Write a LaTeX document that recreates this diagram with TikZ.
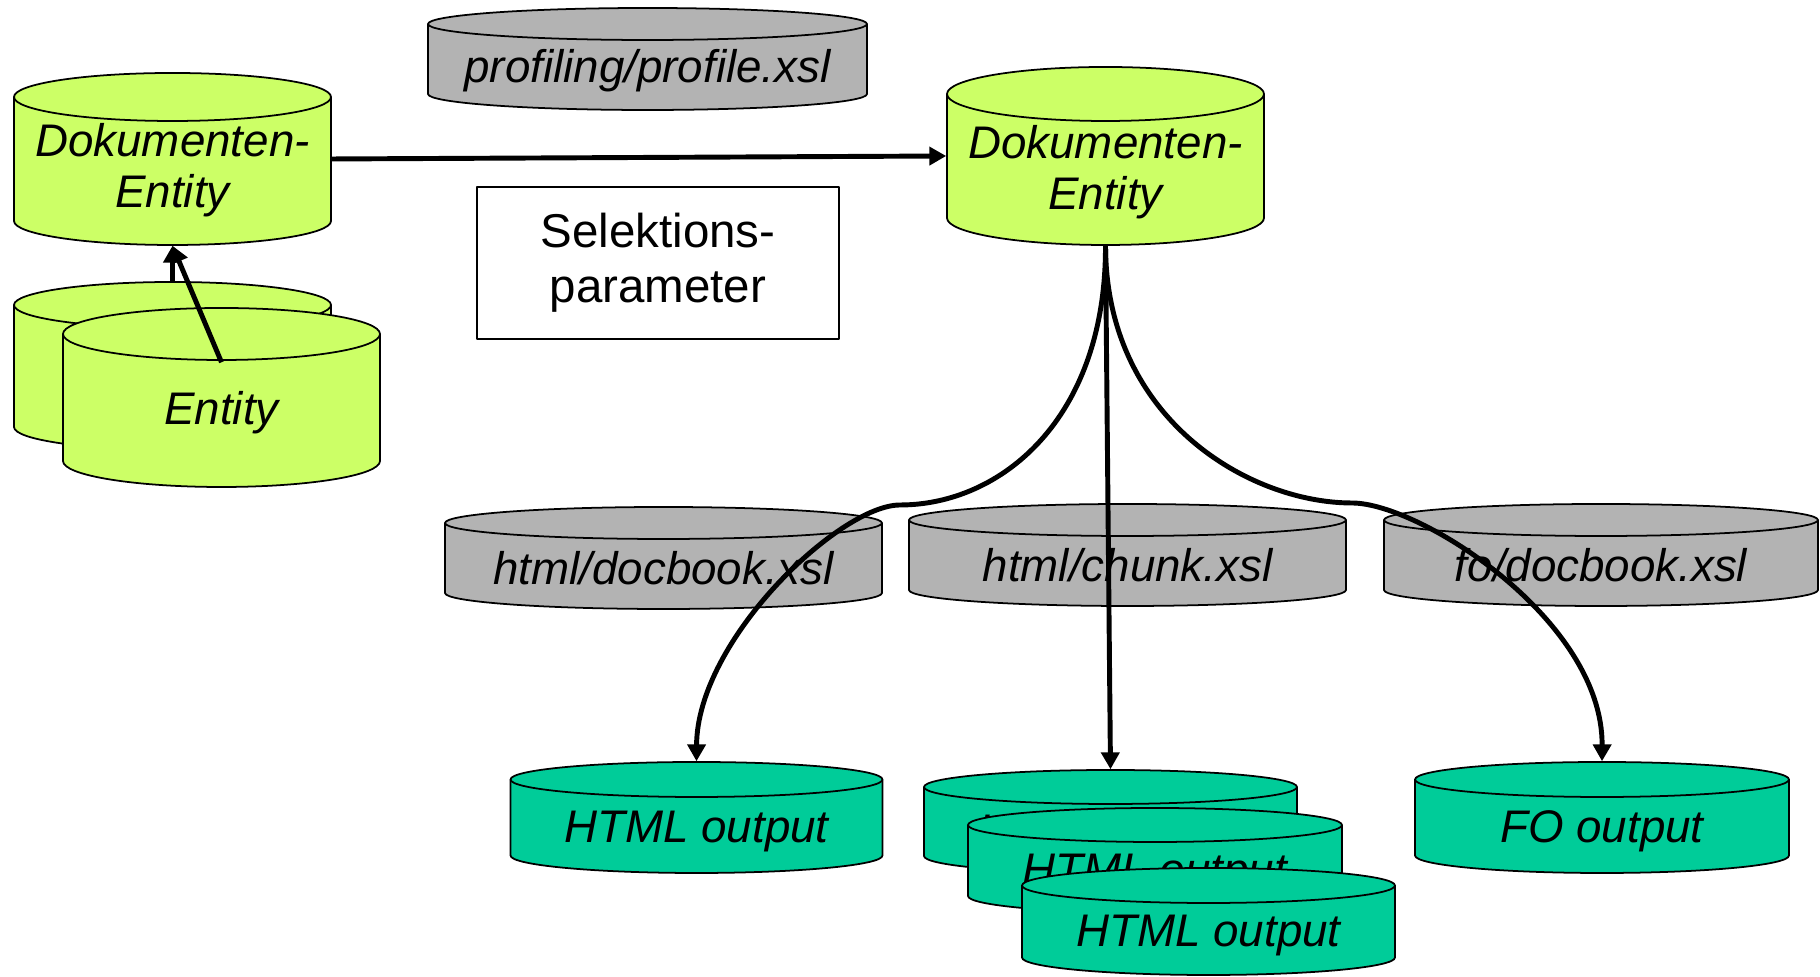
\documentclass[tikz,border=0pt]{standalone}
\usepackage{fontspec}
\setmainfont{Liberation Sans}
\usepackage{tikz}
\usetikzlibrary{arrows.meta}
\definecolor{docgreen}{RGB}{204,255,102}
\definecolor{outgreen}{RGB}{0,204,153}
\definecolor{xslgray}{RGB}{179,179,179}
% centre x, top, bottom, half width, ellipse radius, fill
\newcommand{\cylbody}[6]{%
        \filldraw[fill=#6,line width=0.5pt] (#1-#4,#2+#5) -- (#1-#4,#3-#5)
                arc[start angle=180,end angle=0,x radius=#4,y radius=#5] -- (#1+#4,#2+#5)
                arc[start angle=0,end angle=-180,x radius=#4,y radius=#5] -- cycle;
        \draw[line width=0.5pt] (#1-#4,#2+#5) arc[start angle=180,end angle=0,x radius=#4,y radius=#5];}

\begin{document}
\begin{tikzpicture}[x=0.01cm,y=-0.01cm,join=round,
        drum/.style={rectangle,inner sep=0pt,align=center,font=\fontsize{13}{14.5}\selectfont\itshape,
                execute at begin node={\rule{0pt}{#1}}},
        link/.style={line width=1.4pt,-{Triangle[length=4.8pt,width=5.1pt]}}] % profiling pipeline
        \useasboundingbox (0,0) rectangle (1820,977);
        % sources
        \cylbody{647.5}{8}{110}{219.5}{16}{xslgray}
        \node[drum=0.57cm,minimum width=4.39cm,minimum height=1.02cm] (prof) at (647.5,59) {profiling/profile.xsl};
        \node[draw,line width=0.5pt,minimum width=3.62cm,minimum height=1.52cm,align=center,
                font=\fontsize{13.5}{15.6}\selectfont] (sel) at (658,263) {Selektions-\\parameter};
        \cylbody{172.5}{73}{245}{158.5}{24}{docgreen}
        \node[drum=0pt,text height=0.96cm,text depth=0pt,minimum width=3.17cm,minimum height=1.72cm] (dok1) at (172.5,159) {Dokumenten-\\Entity};
        \cylbody{172.5}{282}{450}{158.5}{23}{docgreen}
        \node[drum=0pt,minimum width=3.17cm,minimum height=1.68cm] (entb) at (172.5,366) {};
        \draw[link] (entb.north) -- (dok1.south);
        \cylbody{221.5}{308}{487}{158.5}{26}{docgreen}
        \node[drum=0.63cm,minimum width=3.17cm,minimum height=1.79cm] (entf) at (221.5,397.5) {Entity};
        \draw[link] ([yshift=-0.55cm]entf.north) -- (dok1.south);
        \cylbody{1105.5}{67}{245}{158.5}{27}{docgreen}
        \node[drum=0pt,text height=1.06cm,text depth=0pt,minimum width=3.17cm,minimum height=1.78cm] (dok2) at (1105.5,156) {Dokumenten-\\Entity};
        \draw[link] (dok1.east) -- (dok2.west);
        % stylesheets
        \cylbody{663.5}{507}{609}{218.5}{16}{xslgray}
        \node[drum=0.54cm,minimum width=4.37cm,minimum height=1.02cm] (hdb) at (663.5,558) {html/docbook.xsl};
        \cylbody{1127.5}{504}{606}{218.5}{16}{xslgray}
        \node[drum=0.54cm,minimum width=4.37cm,minimum height=1.02cm] (chunk) at (1127.5,555) {html/chunk.xsl};
        \cylbody{1601}{504}{606}{217}{16}{xslgray}
        \node[drum=0.54cm,minimum width=4.34cm,minimum height=1.02cm] (fodb) at (1601,555) {fo/docbook.xsl};
        % outputs
        \cylbody{696.5}{762}{873}{186}{17.5}{outgreen}
        \node[drum=0.59cm,minimum width=3.72cm,minimum height=1.11cm] (html) at (696.5,817.5) {HTML output};
        \cylbody{1602}{762}{873}{187}{17.5}{outgreen}
        \node[drum=0.59cm,minimum width=3.74cm,minimum height=1.11cm] (fo) at (1602,817.5) {FO output};
        \cylbody{1110.5}{770}{873}{186.5}{17}{outgreen}
        \node[drum=0.59cm,minimum width=3.73cm,minimum height=1.03cm] (outa) at (1110.5,821.5) {HTML output};
        \cylbody{1155}{808}{913}{187}{17}{outgreen}
        \node[drum=0.59cm,minimum width=3.74cm,minimum height=1.05cm] (outb) at (1155,860.5) {HTML output};
        \cylbody{1208.5}{868}{975}{186.5}{17.5}{outgreen}
        \node[drum=0.59cm,minimum width=3.73cm,minimum height=1.07cm] (outc) at (1208.5,921.5) {HTML output};
        % transformations
        \draw[link] (dok2.south) .. controls (1106,420) and (1000,505) .. (900,505)
                .. controls (840,505) and (697,640) .. (html.north);
        \draw[link] (dok2.south) -- (outa.north);
        \draw[link] (dok2.south) .. controls (1106,420) and (1250,503) .. (1352,503)
                .. controls (1420,503) and (1603,620) .. (fo.north);
\end{tikzpicture}
\end{document}
